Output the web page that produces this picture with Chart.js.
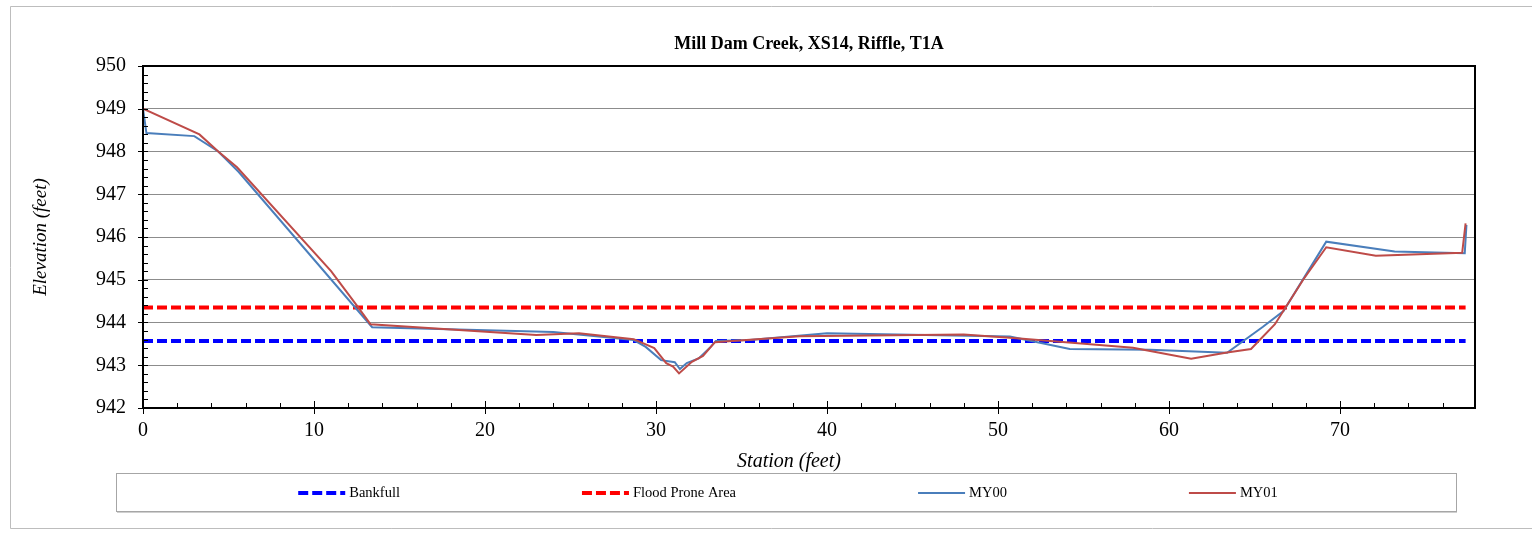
<!DOCTYPE html>
<html>
<head>
<meta charset="utf-8">
<title>Mill Dam Creek, XS14, Riffle, T1A</title>
<script src="https://cdn.jsdelivr.net/npm/chart.js@4/dist/chart.umd.min.js"></script>
<style>
  html, body { margin: 0; padding: 0; background: #ffffff; }
  #wrap { width: 1532px; height: 548px; }
</style>
</head>
<body>
<div id="wrap"><canvas id="xs" width="1532" height="548"></canvas></div>
<script>
// Cross-section survey, station (ft) vs elevation (ft)
const chartTitle = 'Mill Dam Creek, XS14, Riffle, T1A';
const xTitle = 'Station (feet)';
const yTitle = 'Elevation (feet)';

const stationMY00 = [0, 0.2, 3.0, 4.4, 5.6, 13.4, 24.0, 28.7, 29.4, 30.3, 31.1, 31.4, 31.8, 32.5, 33.2, 33.5, 35.5, 40.0, 50.7, 54.2, 58.9, 63.4, 65.5, 66.7, 69.2, 73.2, 77.3, 77.4];
const elevMY00    = [949.0, 948.43, 948.36, 948.0, 947.52, 943.89, 943.78, 943.59, 943.43, 943.12, 943.07, 942.91, 943.05, 943.16, 943.43, 943.57, 943.59, 943.75, 943.67, 943.38, 943.36, 943.29, 943.90, 944.27, 945.89, 945.66, 945.62, 946.28];

const stationMY01 = [0, 3.3, 4.4, 5.5, 11.0, 12.5, 13.3, 23.0, 25.5, 28.7, 29.9, 30.6, 31.0, 31.35, 32.1, 32.75, 33.45, 35.3, 38.4, 48.0, 51.1, 57.9, 61.3, 63.4, 64.8, 66.2, 67.85, 69.2, 72.1, 77.15, 77.35];
const elevMY01    = [949.0, 948.4, 948.0, 947.63, 945.2, 944.4, 943.96, 943.71, 943.75, 943.61, 943.40, 943.05, 942.97, 942.81, 943.08, 943.22, 943.54, 943.59, 943.68, 943.72, 943.63, 943.41, 943.15, 943.30, 943.38, 943.96, 945.0, 945.76, 945.56, 945.63, 946.32];

// Reference elevations drawn across the surveyed width
const levelStations = [0, 77.35];
const bankfullElev = 943.57;
const floodProneElev = 944.35;

const seriesNames = ['Bankfull', 'Flood Prone Area', 'MY00', 'MY01'];

const yTicks = [942, 943, 944, 945, 946, 947, 948, 949, 950];
const xTicks = [0, 10, 20, 30, 40, 50, 60, 70];

const toPoints = (xs, ys) => xs.map((x, i) => ({ x: x, y: ys[i] }));
const levelPoints = (elev) => levelStations.map(x => ({ x: x, y: elev }));

const SERIF = "'Liberation Serif', 'Times New Roman', serif";

const datasets = [
  { label: seriesNames[0], data: levelPoints(bankfullElev), borderColor: '#0000ff', borderWidth: 4, borderDash: [10, 4], order: 4 },
  { label: seriesNames[1], data: levelPoints(floodProneElev), borderColor: '#ff0000', borderWidth: 4, borderDash: [10, 4], order: 3 },
  { label: seriesNames[2], data: toPoints(stationMY00, elevMY00), borderColor: '#4a7ebb', borderWidth: 2, borderDash: [], order: 2 },
  { label: seriesNames[3], data: toPoints(stationMY01, elevMY01), borderColor: '#be4b48', borderWidth: 2, borderDash: [], order: 1 }
].map(d => Object.assign(d, { showLine: true, pointRadius: 0, pointHoverRadius: 0, fill: false, tension: 0 }));

// Frame, tick marks, titles and legend box
const decorations = {
  id: 'decorations',
  beforeDraw(chart) {
    const c = chart.ctx;
    c.save();
    c.fillStyle = '#ffffff';
    c.fillRect(0, 0, chart.width, chart.height);
    c.restore();
  },
  afterDraw(chart) {
    const c = chart.ctx;
    const a = chart.chartArea;
    const xs = chart.scales.x, ys = chart.scales.y;
    c.save();

    // outer chart frame
    c.strokeStyle = '#bdbdbd';
    c.lineWidth = 1;
    c.beginPath();
    c.moveTo(1540, 6.5); c.lineTo(10.5, 6.5); c.lineTo(10.5, 528.5); c.lineTo(1540, 528.5);
    c.stroke();

    // plot frame
    c.strokeStyle = '#000000';
    c.lineWidth = 2;
    c.strokeRect(a.left, a.top, a.right - a.left, a.bottom - a.top);

    // y ticks: majors cross the axis, minors every 0.2 ft inside
    c.lineWidth = 1;
    c.beginPath();
    for (let v = ys.min; v <= ys.max + 1e-6; v += 0.2) {
      const p = Math.round(ys.getPixelForValue(v)) + 0.5;
      const major = Math.abs(v - Math.round(v)) < 1e-6;
      c.moveTo(a.left - (major ? 5 : 0), p);
      c.lineTo(a.left + 5, p);
    }
    // x ticks: majors every 10, minors every 2
    for (let v = 0; v <= xs.max + 1e-6; v += 2) {
      const p = Math.round(xs.getPixelForValue(v)) + 0.5;
      const major = Math.abs(v / 10 - Math.round(v / 10)) < 1e-6;
      c.moveTo(p, a.bottom + (major ? 6 : 0));
      c.lineTo(p, a.bottom - (major ? 7 : 5));
    }
    c.stroke();

    // chart title
    c.fillStyle = '#000000';
    c.textAlign = 'center';
    c.textBaseline = 'middle';
    c.font = 'bold 18px ' + SERIF;
    c.fillText(chartTitle, (a.left + a.right) / 2, 44);

    // axis titles
    c.font = 'italic 20px ' + SERIF;
    c.fillText(xTitle, 789, 462);
    c.font = 'italic 19px ' + SERIF;
    c.save();
    c.translate(41, (a.top + a.bottom) / 2);
    c.rotate(-Math.PI / 2);
    c.fillText(yTitle, 0, 0);
    c.restore();

    // legend box
    const box = { left: 116, right: 1456, top: 473, bottom: 511 };
    c.strokeStyle = '#a6a6a6';
    c.lineWidth = 1;
    c.strokeRect(box.left + 0.5, box.top + 0.5, box.right - box.left, box.bottom - box.top);
    c.strokeStyle = '#cfcfcf';
    c.beginPath();
    c.moveTo(box.left + 1, box.bottom + 1.5);
    c.lineTo(box.right + 1, box.bottom + 1.5);
    c.stroke();

    c.font = '14.5px ' + SERIF;
    const lineLen = 47, textGap = 4, itemGap = 182;
    const items = datasets.map(d => ({ d: d, w: lineLen + textGap + c.measureText(d.label).width }));
    const total = items.reduce((s, it) => s + it.w, 0) + itemGap * (items.length - 1);
    let x = 788 - total / 2;
    const ly = 493;
    items.forEach(it => {
      const d = it.d;
      c.save();
      c.strokeStyle = d.borderColor;
      c.lineWidth = d.borderWidth;
      c.setLineDash(d.borderDash);
      c.beginPath();
      c.moveTo(x, ly);
      c.lineTo(x + lineLen, ly);
      c.stroke();
      c.restore();
      c.fillStyle = '#000000';
      c.textAlign = 'left';
      c.textBaseline = 'middle';
      c.fillText(d.label, x + lineLen + textGap, ly);
      x += it.w + itemGap;
    });

    c.restore();
  }
};

new Chart(document.getElementById('xs'), {
  type: 'scatter',
  data: { datasets: datasets },
  options: {
    responsive: false,
    animation: false,
    events: [],
    layout: { padding: { top: 66, right: 57, left: 0, bottom: 0 } },
    plugins: {
      legend: { display: false },
      title: { display: false },
      tooltip: { enabled: false }
    },
    scales: {
      x: {
        type: 'linear',
        min: 0,
        max: 77.9,
        afterFit: (s) => { s.height = 140; },
        afterBuildTicks: (s) => { s.ticks = xTicks.map(v => ({ value: v })); },
        ticks: { padding: 11, color: '#000000', font: { family: SERIF, size: 20 }, maxRotation: 0, autoSkip: false },
        grid: { display: false, drawTicks: false },
        border: { display: false }
      },
      y: {
        type: 'linear',
        min: 942,
        max: 950,
        afterFit: (s) => { s.width = 143; },
        afterBuildTicks: (s) => { s.ticks = yTicks.map(v => ({ value: v })); },
        ticks: { padding: 17, color: '#000000', font: { family: SERIF, size: 20 }, autoSkip: false },
        grid: { color: '#8c8c8c', lineWidth: 1, drawTicks: false },
        border: { display: false }
      }
    }
  },
  plugins: [decorations]
});
</script>
</body>
</html>
